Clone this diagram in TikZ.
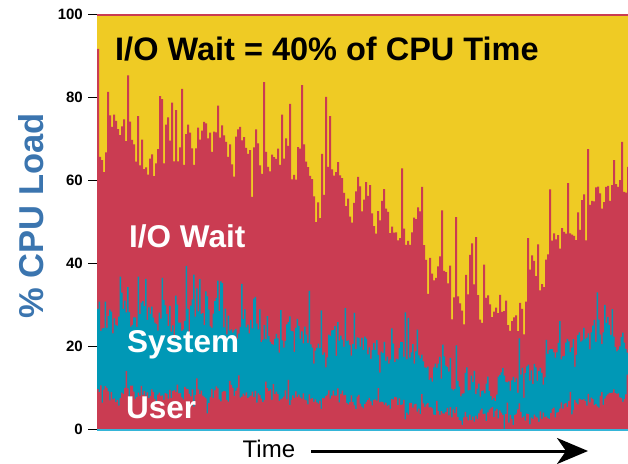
\documentclass[tikz,border=0pt]{standalone}
\usepackage{fontspec}
\setmainfont{Liberation Sans}
\usetikzlibrary{arrows.meta}

\definecolor{waityellow}{RGB}{239,203,36}
\definecolor{waitred}{RGB}{202,60,82}
\definecolor{systeal}{RGB}{0,152,182}
\definecolor{zerocyan}{RGB}{53,181,216}
\definecolor{axisblue}{RGB}{59,117,175}

% piecewise-linear interpolation: #1 result macro, #2 x, #3 knots x/v
\newcommand\pwl[3]{%
  \gdef\pwlpx{}%
  \foreach \kx/\kv in {#3}{%
    \ifx\pwlpx\empty\else
      \pgfmathtruncatemacro\pwlin{(#2>=\pwlpx)&&(#2<=\kx)}%
      \ifnum\pwlin=1
        \pgfmathparse{\pwlpv+(\kv-\pwlpv)*(#2-\pwlpx)/(\kx-\pwlpx)}%
        \xdef#1{\pgfmathresult}%
      \fi
    \fi
    \xdef\pwlpx{\kx}\xdef\pwlpv{\kv}%
  }%
}

% noisy step curve: #1 path macro, #2 trend knots, #3 bar width,
% #4 noise, #5 memory, #6/#7 spike chance/size, #8/#9 dip chance/size
\newcommand\mkcurve[9]{%
  \gdef\mkpath{}\gdef\mkar{0}%
  \pgfmathtruncatemacro\mkn{531/#3}%
  \foreach \i in {0,...,\mkn}{%
    \pgfmathsetmacro\mkxa{97+#3*\i}%
    \pgfmathsetmacro\mkxb{min(628,\mkxa+#3)}%
    \pwl\mkmean{\mkxa}{#2}%
    \pgfmathsetmacro\mknew{#5*\mkar+#4*rand}%
    \xdef\mkar{\mknew}%
    \pgfmathsetmacro\mkextra{rnd<#6 ? #7*(0.4+0.6*rnd) : (rnd<#8 ? -#9*(0.4+0.6*rnd) : 0)}%
    \pgfmathsetmacro\mkval{max(0,min(100,\mkmean+\mknew+\mkextra))}%
    \xdef\mkpath{\mkpath -- (\mkxa,\mkval) -- (\mkxb,\mkval)}%
  }%
  \global\let#1\mkpath
}

\tikzset{
  headline/.style={font=\bfseries\fontsize{32.5}{39}\selectfont, inner sep=0pt, anchor=base west},
  bandlabel/.style={font=\bfseries\fontsize{31.5}{38}\selectfont, text=white, inner sep=0pt, anchor=base west},
  ticklabel/.style={font=\bfseries\fontsize{15}{18}\selectfont, inner sep=0pt, anchor=east},
  tickmark/.style={line width=1pt},
}

\begin{document}
\begin{tikzpicture}[x=1pt,y=1pt]
\useasboundingbox (0,0) rectangle (628,463);

\pgfmathsetseed{4711}
% total load (user + system + I/O wait)
\mkcurve\curveT{97/70,150/70,200/70,250/68,290/65,320/60,350/57,380/54,410/49,430/43,450/37,470/31,490/28.5,510/29,530/36,550/43,570/49,590/56,610/61,628/64}{2}{5}{0.55}{0.15}{18}{0.1}{8}
% user + system
\mkcurve\curveS{97/27,150/28,200/27,270/24,330/21.5,400/18,430/15,450/12,470/10.5,530/11,545/14,560/18,580/21,610/23,628/22}{1.5}{3.2}{0.4}{0.15}{10}{0.1}{4}
% user
\mkcurve\curveU{97/8.5,200/8.5,270/8,350/7.5,400/6.3,440/4.5,470/3.2,540/3.5,560/5.2,600/7.5,628/8.5}{1.5}{1.6}{0.4}{0.08}{4}{0.08}{3}

\begin{scope}[y=4.146pt, yshift=33.7pt]
  % stacked areas
  \fill[waityellow] (97,0) rectangle (628,100);
  \fill[waitred] (97,0) \curveT -- (628,0) -- cycle;
  \fill[systeal] (97,0) \curveS -- (628,0) -- cycle;
  \fill[waitred] (97,0) \curveU -- (628,0) -- cycle;
  \draw[waitred, line width=2pt] (97,100) -- (628,100);
  \draw[zerocyan, line width=2pt] (97,-0.24) -- (628,-0.24);

  % y axis ticks
  \foreach \t in {0,20,...,100}{
    \draw[tickmark] (88,\t) -- (97,\t);
    \node[ticklabel] (tick\t) at (83,\t) {\t};
  }
\end{scope}

% labels
\node[headline] (headline) at (115,402) {I/O Wait = 40\% of CPU Time};
\node[bandlabel] (iolabel) at (129,215) {I/O Wait};
\node[bandlabel] (syslabel) at (127,111) {System};
\node[bandlabel] (userlabel) at (126,45) {User};
\node[font=\bfseries\fontsize{34.5}{41}\selectfont, text=axisblue, inner sep=0pt,
      rotate=90, anchor=base] (ylabel) at (43,247) {\% CPU Load};

% time axis
\node[font=\fontsize{24}{29}\selectfont, inner sep=0pt, anchor=base west] (timelabel) at (242.5,6) {Time};
\coordinate (timestart) at (311,12);
\coordinate (timeend) at (588,12);
\draw[line width=3pt, -{Stealth[length=31pt, width=26pt, inset=9pt]}] (timestart) -- (timeend);
\end{tikzpicture}
\end{document}
